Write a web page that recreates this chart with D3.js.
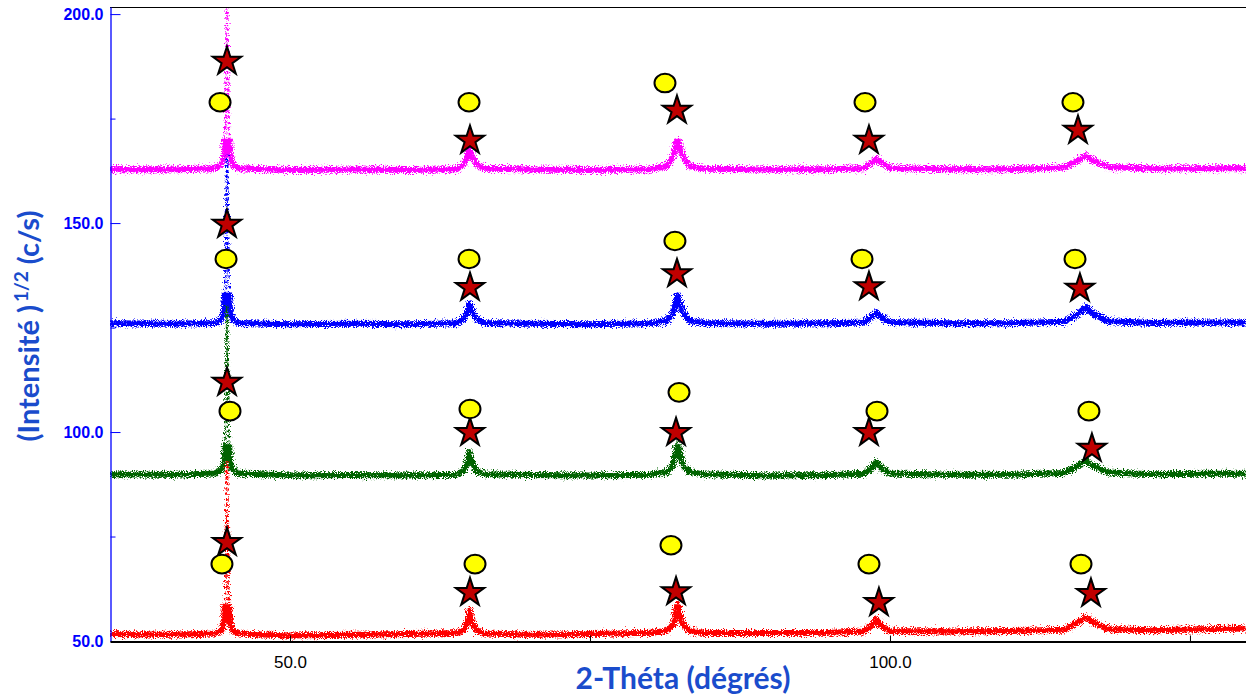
<!DOCTYPE html>
<html>
<head>
<meta charset="utf-8">
<script src="https://cdn.jsdelivr.net/npm/d3@7"></script>
<style>
  body { margin: 0; background: #fff; }
  svg { display: block; }
</style>
</head>
<body>
<div id="chart"></div>
<script>
var thetaKnots = [35, 40, 43.8, 44.3, 44.5, 44.6, 44.75, 44.9, 45.0, 45.2, 45.7,
  50, 55, 60, 63.9, 64.5, 64.8, 64.95, 65.15, 65.5, 66.2,
  70, 75, 80, 81.4, 81.9, 82.15, 82.3, 82.45, 82.75, 83.3, 84.5,
  90, 95, 97.8, 98.5, 98.85, 99.2, 100,
  105, 110, 114.5, 115.7, 116.3, 116.9, 118.2, 122, 126, 129.7];

var redValues = [51.7, 51.5, 51.8, 52.6, 54.5, 60, 93, 60, 54.5, 52.6, 51.8,
  51.3, 51.5, 51.7, 51.9, 52.6, 54.5, 57.3, 54.5, 52.6, 51.8,
  51.5, 51.7, 52.0, 52.4, 53.8, 56.5, 59.7, 56.5, 53.8, 52.4, 51.9,
  51.9, 52.0, 52.3, 53.7, 55.2, 53.8, 52.4,
  52.3, 52.4, 52.7, 54.5, 55.7, 54.5, 52.8, 52.6, 52.8, 53.0];

var greenValues = [89.9, 89.8, 90.1, 91.0, 93.0, 99, 130.3, 99, 93.0, 91.0, 90.1,
  89.6, 89.7, 89.6, 89.8, 90.8, 92.8, 95.2, 92.8, 90.8, 89.9,
  89.7, 89.6, 89.8, 90.4, 92.0, 95.0, 98.0, 95.0, 92.0, 90.4, 89.9,
  89.6, 89.7, 90.0, 91.5, 92.8, 91.6, 90.1,
  89.8, 89.8, 90.2, 92.0, 93.2, 92.0, 90.3, 89.9, 90.0, 90.0];

var blueValues = [126.0, 125.9, 126.1, 127.0, 129.0, 135, 166.2, 135, 129.0, 127.0, 126.1,
  125.8, 125.9, 125.8, 126.0, 127.2, 129.0, 130.8, 129.0, 127.2, 126.1,
  125.9, 125.8, 126.0, 126.6, 128.5, 131.0, 133.2, 131.0, 128.5, 126.6, 126.1,
  125.9, 126.0, 126.2, 127.6, 128.7, 127.6, 126.3,
  126.0, 126.0, 126.4, 128.3, 129.9, 128.3, 126.5, 126.1, 126.2, 126.2];

var magentaValues = [162.9, 162.8, 163.1, 164.0, 166.0, 172, 205, 172, 166.0, 164.0, 163.1,
  162.7, 162.8, 162.7, 162.9, 164.2, 166.0, 167.9, 166.0, 164.2, 163.0,
  162.8, 162.7, 162.9, 163.6, 165.8, 168.3, 170.3, 168.3, 165.8, 163.6, 163.0,
  162.8, 162.9, 163.1, 164.5, 165.5, 164.5, 163.2,
  162.9, 162.9, 163.3, 165.0, 166.2, 165.0, 163.4, 163.0, 163.1, 163.1];

// phase markers: [2-theta, y]
var redStars = [[44.75, 73.9], [65.0, 61.9], [82.17, 62.1], [99.08, 59.5], [116.75, 61.7]];
var redCircles = [[44.33, 68.4], [65.42, 68.4], [81.75, 72.9], [98.25, 68.4], [115.92, 68.4]];
var greenStars = [[44.75, 112.2], [65.0, 100.2], [82.17, 100.2], [98.25, 100.2], [116.83, 96.4]];
var greenCircles = [[45.0, 105.0], [65.0, 105.5], [82.42, 109.5], [98.92, 105.0], [116.58, 105.0]];
var blueStars = [[44.75, 150.0], [65.0, 134.9], [82.25, 138.2], [98.25, 135.1], [115.83, 134.7]];
var blueCircles = [[44.67, 141.4], [64.92, 141.4], [82.08, 145.7], [97.67, 141.4], [115.42, 141.4]];
var magentaStars = [[44.75, 189.0], [65.0, 170.1], [82.25, 177.3], [98.25, 170.1], [115.67, 172.5]];
var magentaCircles = [[44.17, 178.9], [64.92, 178.9], [81.25, 183.5], [97.92, 178.9], [115.25, 178.9]];

var yMajorTicks = [50, 100, 150, 200];
var yMinorTicks = [75, 125, 175];
var xMajorTicks = [50, 100];
var xMinorTicks = [75, 125];

var W = 1246, H = 697;
var plotLeft = 110, plotTop = 7, plotRight = 1246, plotBottom = 641;

var svg = d3.select("#chart")
  .append("svg")
  .attr("width", W)
  .attr("height", H);

var defs = svg.append("defs");
defs.append("clipPath")
  .attr("id", "plotClip")
  .append("rect")
  .attr("x", plotLeft)
  .attr("y", plotTop)
  .attr("width", plotRight - plotLeft)
  .attr("height", plotBottom - plotTop);

// grain for the scattered-points look of the measured scans
function addGrain(id, scale, seed) {
  var f = defs.append("filter")
    .attr("id", id)
    .attr("filterUnits", "userSpaceOnUse")
    .attr("x", 0).attr("y", 0).attr("width", W).attr("height", H);
  f.append("feTurbulence")
    .attr("type", "fractalNoise")
    .attr("baseFrequency", 0.9)
    .attr("numOctaves", 2)
    .attr("seed", seed)
    .attr("result", "noise");
  f.append("feDisplacementMap")
    .attr("in", "SourceGraphic")
    .attr("in2", "noise")
    .attr("scale", scale)
    .attr("xChannelSelector", "R")
    .attr("yChannelSelector", "G");
}
addGrain("grain", 10, 4);
addGrain("grainThin", 7, 9);

var x = d3.scaleLinear().domain([35, 129.67]).range([plotLeft, plotRight]);
var y = d3.scaleLinear().domain([50, 201.7]).range([plotBottom, plotTop]);

var line = d3.line()
  .x(function(d) { return x(d[0]); })
  .y(function(d) { return y(d[1]); });

var series = [
  { name: "m", values: magentaValues, color: "#ff00ff", stars: magentaStars, circles: magentaCircles },
  { name: "b", values: blueValues, color: "#0000ff", stars: blueStars, circles: blueCircles },
  { name: "g", values: greenValues, color: "#006400", stars: greenStars, circles: greenCircles },
  { name: "r", values: redValues, color: "#ff0000", stars: redStars, circles: redCircles }
];

// dense band near each baseline, sparse dots on the tall reflections
series.forEach(function(s) {
  var base = d3.min(s.values);
  defs.append("clipPath")
    .attr("id", "band_" + s.name)
    .append("rect")
    .attr("x", plotLeft)
    .attr("width", plotRight - plotLeft)
    .attr("y", y(base + 7.5))
    .attr("height", y(base - 5) - y(base + 7.5));
});

var plot = svg.append("g").attr("clip-path", "url(#plotClip)");

series.forEach(function(s) {
  var pts = thetaKnots.map(function(t, i) { return [t, s.values[i]]; });
  plot.append("path")
    .attr("d", line(pts))
    .attr("fill", "none")
    .attr("stroke", s.color)
    .attr("stroke-width", 2.6)
    .attr("stroke-dasharray", "3 2.5")
    .attr("filter", "url(#grainThin)");
  plot.append("g")
    .attr("clip-path", "url(#band_" + s.name + ")")
    .append("path")
    .attr("d", line(pts))
    .attr("fill", "none")
    .attr("stroke", s.color)
    .attr("stroke-width", 6)
    .attr("stroke-linejoin", "round")
    .attr("filter", "url(#grain)");
});

// frame
svg.append("line")
  .attr("x1", plotLeft).attr("x2", plotRight)
  .attr("y1", plotTop + 0.5).attr("y2", plotTop + 0.5)
  .attr("stroke", "#000").attr("stroke-width", 1.2);

// y axis
var yAxis = svg.append("g")
  .attr("transform", "translate(" + (plotLeft + 0.5) + ",0)")
  .call(d3.axisLeft(y).tickValues(yMajorTicks).tickSize(-10).tickSizeOuter(0)
    .tickPadding(7).tickFormat(d3.format(".1f")));
svg.append("g")
  .attr("transform", "translate(" + (plotLeft + 0.5) + ",0)")
  .call(d3.axisLeft(y).tickValues(yMinorTicks).tickSize(-5).tickSizeOuter(0).tickFormat(""))
  .call(function(g) { g.select(".domain").remove(); })
  .selectAll("line").attr("stroke", "#0000ff");
yAxis.select(".domain").attr("stroke", "#0000ff").attr("stroke-width", 1.3);
yAxis.selectAll(".tick line").attr("stroke", "#0000ff");
yAxis.selectAll(".tick text")
  .attr("fill", "#0000ff")
  .attr("font-family", "Liberation Sans, Arial, sans-serif")
  .attr("font-weight", "bold")
  .attr("font-size", 16);

// x axis
var xAxis = svg.append("g")
  .attr("transform", "translate(0," + (plotBottom + 0.5) + ")")
  .call(d3.axisBottom(x).tickValues(xMajorTicks).tickSize(-6).tickSizeOuter(0)
    .tickPadding(14).tickFormat(d3.format(".1f")));
svg.append("g")
  .attr("transform", "translate(0," + (plotBottom + 0.5) + ")")
  .call(d3.axisBottom(x).tickValues(xMinorTicks).tickSize(-6).tickSizeOuter(0).tickFormat(""))
  .call(function(g) { g.select(".domain").remove(); })
  .selectAll("line").attr("stroke", "#000");
xAxis.select(".domain").attr("stroke", "#000").attr("stroke-width", 2);
xAxis.selectAll(".tick text")
  .attr("fill", "#000")
  .attr("font-family", "Liberation Sans, Arial, sans-serif")
  .attr("font-size", 17);

// markers
var star = d3.symbol().type(d3.symbolStar).size(250);
var marks = svg.append("g");
series.forEach(function(s) {
  marks.selectAll(null)
    .data(s.stars)
    .enter().append("path")
    .attr("d", star)
    .attr("transform", function(d) { return "translate(" + x(d[0]) + "," + (y(d[1]) + 1.4) + ")"; })
    .attr("fill", "#c00000")
    .attr("stroke", "#000")
    .attr("stroke-width", 2)
    .attr("stroke-linejoin", "miter");
  marks.selectAll(null)
    .data(s.circles)
    .enter().append("ellipse")
    .attr("cx", function(d) { return x(d[0]); })
    .attr("cy", function(d) { return y(d[1]); })
    .attr("rx", 10.5)
    .attr("ry", 9.3)
    .attr("fill", "#ffff00")
    .attr("stroke", "#000")
    .attr("stroke-width", 2);
});

// titles
svg.append("text")
  .attr("x", 683)
  .attr("y", 689)
  .attr("text-anchor", "middle")
  .attr("fill", "#1a4ccc")
  .attr("font-family", "Lato, 'Open Sans', sans-serif")
  .attr("font-weight", "bold")
  .attr("font-size", 30)
  .text("2-Théta (dégrés)");

var yTitle = svg.append("text")
  .attr("transform", "translate(39,326) rotate(-90)")
  .attr("text-anchor", "middle")
  .attr("fill", "#1a4ccc")
  .attr("font-family", "Lato, 'Open Sans', sans-serif")
  .attr("font-weight", "bold")
  .attr("font-size", 29);
yTitle.append("tspan").text("(Intensité )");
yTitle.append("tspan").attr("font-size", 19).attr("dy", -11).attr("dx", 3).text("1/2");
yTitle.append("tspan").attr("dy", 11).text(" (c/s)");
</script>
</body>
</html>
